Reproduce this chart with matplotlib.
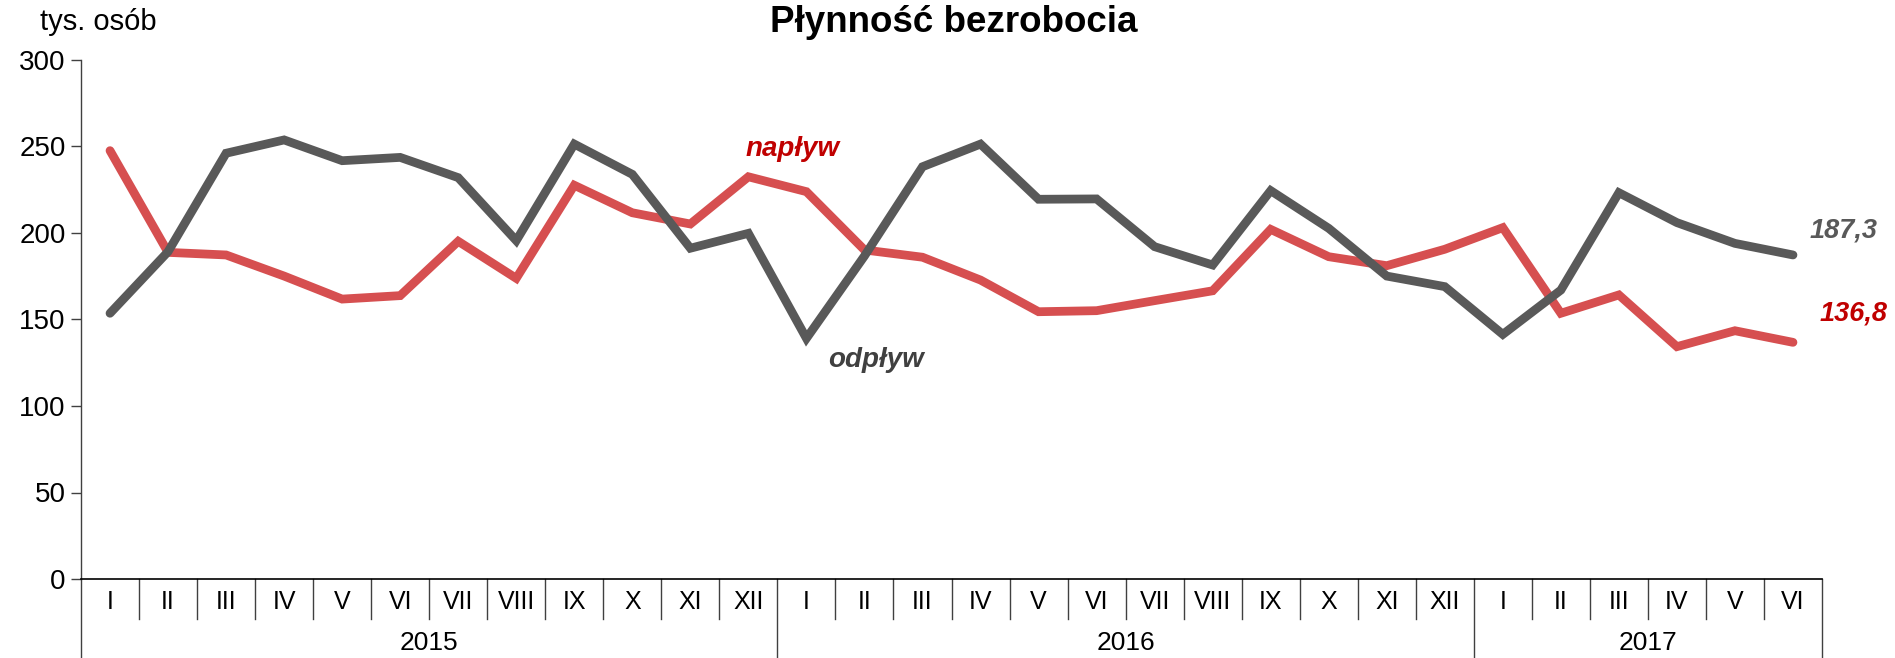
import matplotlib
matplotlib.use("Agg")
import matplotlib.pyplot as plt
import numpy as np
from matplotlib import font_manager

narrow = [f.name for f in font_manager.fontManager.ttflist if 'Narrow' in f.name or 'Condensed' in f.name]
FAM = ['Liberation Sans Narrow', 'Liberation Sans', 'DejaVu Sans'] if 'Liberation Sans Narrow' in narrow else ['Liberation Sans', 'DejaVu Sans']
NARROW = FAM[0] == 'Liberation Sans Narrow'
k = 1.2 if NARROW else 1.0
plt.rcParams['font.family'] = FAM

months = ["I", "II", "III", "IV", "V", "VI", "VII", "VIII", "IX", "X", "XI", "XII",
          "I", "II", "III", "IV", "V", "VI", "VII", "VIII", "IX", "X", "XI", "XII",
          "I", "II", "III", "IV", "V", "VI"]
years = ["2015", "2016", "2017"]
months_per_year = [12, 12, 6]

naplyw = [247.6, 188.8, 187.3, 175.1, 161.8, 163.8, 195.2, 173.8, 227.6, 211.7, 205.2, 232.5,
          223.9, 190.2, 186.0, 172.8, 154.5, 155.1, 160.9, 166.6, 202.1, 186.3, 181.1, 190.6,
          203.1, 153.6, 164.2, 134.3, 143.5, 136.8]
odplyw = [153.6, 189.2, 246.1, 253.8, 241.8, 243.7, 232.0, 195.6, 251.4, 233.9, 191.2, 199.8,
          139.1, 186.7, 238.3, 251.4, 219.5, 219.7, 192.1, 181.5, 224.5, 202.7, 175.1, 169.0,
          141.4, 167.0, 223.3, 206.0, 194.0, 187.3]

RED = "#D64F50"
GRAY = "#595959"

fig = plt.figure(figsize=(18.95, 6.58), dpi=100)
ax = fig.add_axes([81/1895, 1-579/658, (1822-81)/1895, (579-60)/658])

x = np.arange(len(months))
ax.plot(x, naplyw, color=RED, lw=6.3, solid_capstyle='round', solid_joinstyle='miter', zorder=3)
ax.plot(x, odplyw, color=GRAY, lw=6.3, solid_capstyle='round', solid_joinstyle='miter', zorder=4)

ax.set_xlim(-0.5, len(months) - 0.5)
ax.set_ylim(0, 300)
ax.set_yticks([0, 50, 100, 150, 200, 250, 300])
ax.tick_params(axis='y', labelsize=20*k, length=7, width=1, color='#404040', pad=4)

ax.set_xticks(x)
ax.set_xticklabels(months, fontsize=18*k)
ax.tick_params(axis='x', length=0, pad=8)

for s in ['top', 'right']:
    ax.spines[s].set_visible(False)
ax.spines['left'].set_color('#404040')
ax.spines['left'].set_linewidth(1)
ax.spines['bottom'].set_color('black')
ax.spines['bottom'].set_linewidth(1.2)

tr = ax.get_xaxis_transform()
year_bounds = np.cumsum([0] + months_per_year) - 0.5
for b in np.arange(len(months) + 1) - 0.5:
    if np.any(np.isclose(b, year_bounds)):
        ax.plot([b, b], [0, -0.155], transform=tr, color='#404040', lw=1, clip_on=False)
    else:
        ax.plot([b, b], [0, -0.077], transform=tr, color='#404040', lw=1, clip_on=False)

for i, yl in enumerate(years):
    c = (year_bounds[i] + year_bounds[i + 1]) / 2
    ax.text(c, -0.123, yl, transform=tr, ha='center', va='center', fontsize=19*k)

fig.text(0.5035, 1 - 22/658, "Płynność bezrobocia", ha='center', va='center',
         fontsize=26.5*k, fontweight='bold')
fig.text(40/1895, 1 - 22/658, "tys. osób", ha='left', va='center', fontsize=21*k)

ax.text(11.76, 248.6, "napływ", color="#C00000", fontsize=20*k, fontweight='bold',
        style='italic', ha='center', va='center')
ax.text(13.2, 126.6, "odpływ", color="#404040", fontsize=20*k, fontweight='bold',
        style='italic', ha='center', va='center')
ax.text(len(months) - 1 + 0.28, odplyw[-1] + 14, "187,3", color=GRAY, fontsize=19.5*k,
        fontweight='bold', style='italic', ha='left', va='center')
ax.text(len(months) - 1 + 0.45, naplyw[-1] + 16.4, "136,8", color="#C00000", fontsize=19.5*k,
        fontweight='bold', style='italic', ha='left', va='center')

fig.savefig("out.png", dpi=100)
